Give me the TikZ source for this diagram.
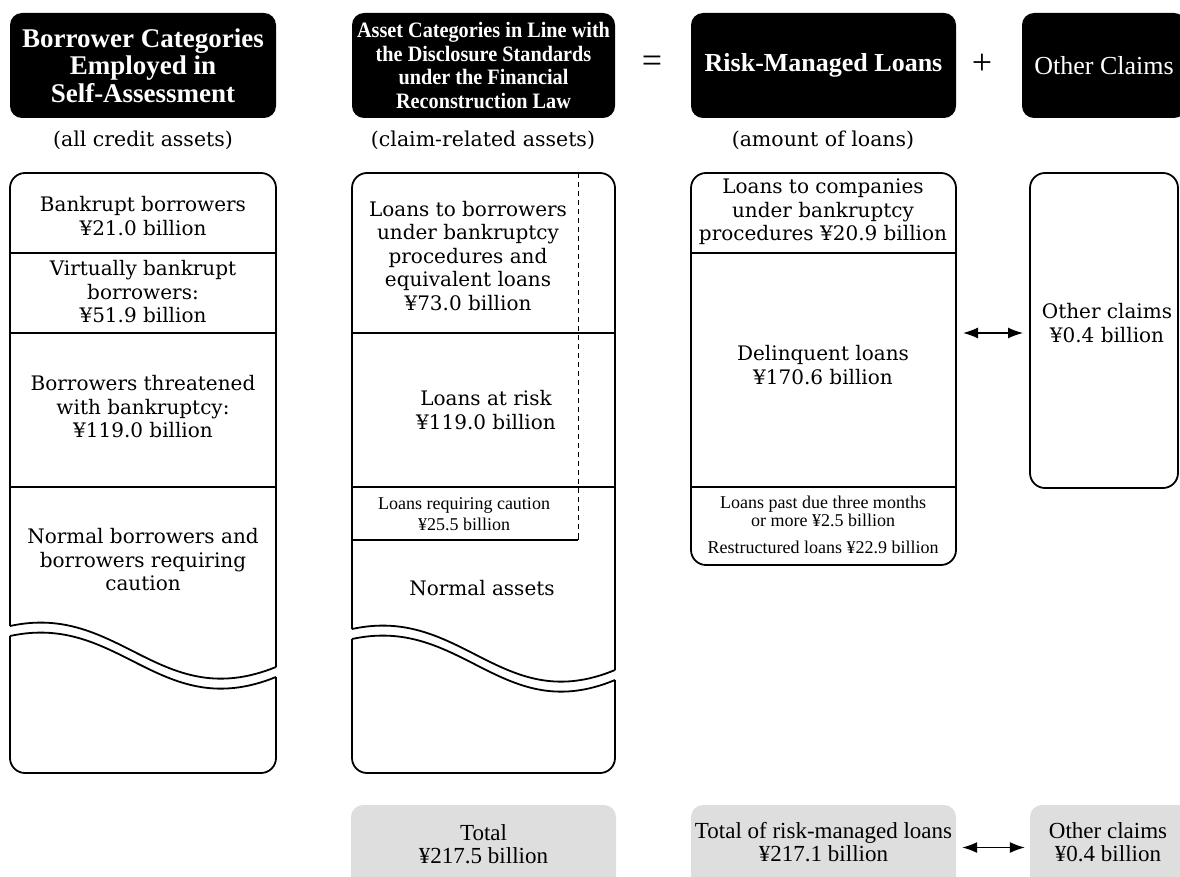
\documentclass[tikz,border=0pt]{standalone}
\usepackage{fontspec}
\setmainfont{DejaVu Serif}
\newfontfamily\tms{Liberation Serif}
\newfontfamily\tmscond[FakeStretch=0.92]{Liberation Serif}
\usetikzlibrary{arrows.meta}
\newcommand\mtxt{\fontsize{20}{23.5}\selectfont}
\newcommand\smtxt{\tms\fontsize{18}{21.5}\selectfont}
\newcommand\smtight{\tms\fontsize{18}{18}\selectfont}
\newcommand\gtxt{\tms\fontsize{23}{23}\selectfont}
\newcommand\hA{\tms\bfseries\fontsize{27}{27.5}\selectfont}
\newcommand\hB{\tmscond\bfseries\fontsize{22}{23.7}\selectfont}
\newcommand\hC{\tms\bfseries\fontsize{26}{28}\selectfont}
\newcommand\hD{\tms\fontsize{26}{28}\selectfont}
\newcommand\subt{\fontsize{20.5}{22}\selectfont}
\begin{document}
\begin{tikzpicture}[x=1pt,y=-1pt,
  hdr/.style={fill=black, rounded corners=12pt, text=white, align=center, inner sep=0pt, minimum height=105pt},
  outl/.style={line width=1.8pt, rounded corners=15pt},
  wavel/.style={line width=1.8pt},
  divl/.style={line width=1.1pt},
  txt/.style={align=center, inner sep=0pt},
  gbox/.style={fill=black!13, rounded corners=12pt, minimum height=85pt, inner sep=0pt},
  dbl/.style={{Latex[length=15pt,width=11pt]}-{Latex[length=15pt,width=11pt]}, line width=1.3pt}
]
\useasboundingbox (0,0) rectangle (1180,877);
\clip (0,0) rectangle (1180,877);

% ---------- headers ----------
\node[hdr, minimum width=266pt, font=\hA] (h1) at (143,65.5) {Borrower Categories\\Employed in\\Self-Assessment};
\node[hdr, minimum width=263pt, font=\hB] (h2) at (483.5,65.5) {Asset Categories in Line with\\the Disclosure Standards\\under the Financial\\Reconstruction Law};
\node[hdr, minimum width=265pt, font=\hC] (h3) at (823.5,65.5) {Risk-Managed Loans};
\node[hdr, minimum width=164pt, font=\hD] (h4) at (1104,65.5) {Other Claims};
\node[txt, font=\tms\fontsize{36}{36}\selectfont] (eq) at (652,64) {=};
\node[txt, font=\tms\fontsize{36}{36}\selectfont] (plus) at (982,64) {+};

\node[txt, font=\subt] (s1) at (143,140) {(all credit assets)};
\node[txt, font=\subt] (s2) at (483,140) {(claim-related assets)};
\node[txt, font=\subt] (s3) at (823,140) {(amount of loans)};

% ---------- column 1 ----------
\draw[divl] (10,253) -- (276,253);
\draw[divl] (10,333) -- (276,333);
\draw[divl] (10,487) -- (276,487);
\draw[outl] (10,626) -- (10,173) -- (276,173) -- (276,667);
\draw[wavel] (10,626) .. controls (120,602) and (160,714) .. (276,667);
\draw[outl] (10,636) -- (10,773) -- (276,773) -- (276,677);
\draw[wavel] (10,636) .. controls (120,612) and (160,724) .. (276,677);

\node[txt, font=\mtxt] (c11) at (143,216) {Bankrupt borrowers\\¥21.0 billion};
\node[txt, font=\mtxt] (c12) at (143,292) {Virtually bankrupt\\borrowers:\\¥51.9 billion};
\node[txt, font=\mtxt] (c13) at (143,407) {Borrowers threatened\\with bankruptcy:\\¥119.0 billion};
\node[txt, font=\mtxt] (c14) at (143,560) {Normal borrowers and\\borrowers requiring\\caution};

% ---------- column 2 ----------
\draw[divl] (352,333) -- (615,333);
\draw[divl] (352,487) -- (615,487);
\draw[divl] (352,540) -- (578,540);
\draw[line width=1pt, dash pattern=on 5pt off 4pt] (578,173) -- (578,537);
\draw[line width=1pt] (578,536) -- (578,540);
\draw[outl] (352,629) -- (352,173) -- (615,173) -- (615,670);
\draw[wavel] (352,629) .. controls (462,605) and (502,717) .. (615,670);
\draw[outl] (352,639) -- (352,773) -- (615,773) -- (615,680);
\draw[wavel] (352,639) .. controls (462,615) and (502,727) .. (615,680);

\node[txt, font=\mtxt] (c21) at (468,256) {Loans to borrowers\\under bankruptcy\\procedures and\\equivalent loans\\¥73.0 billion};
\node[txt, font=\mtxt] (c22) at (486,410) {Loans at risk\\¥119.0 billion};
\node[txt, font=\smtxt] (c23) at (464,514) {Loans requiring caution\\¥25.5 billion};
\node[txt, font=\mtxt] (c24) at (482,588) {Normal assets};

% ---------- column 3 ----------
\draw[divl] (691,253) -- (956,253);
\draw[divl] (691,487) -- (956,487);
\draw[outl] (691,173) rectangle (956,565);
\node[txt, font=\mtxt] (c31) at (823,212) {Loans to companies\\under bankruptcy\\procedures ¥20.9 billion};
\node[txt, font=\mtxt] (c32) at (823,365) {Delinquent loans\\¥170.6 billion};
\node[txt, font=\smtight] (c33) at (823,511) {Loans past due three months\\or more ¥2.5 billion};
\node[txt, font=\smtight] (c34) at (823,547) {Restructured loans ¥22.9 billion};

% ---------- column 4 ----------
\draw[outl] (1030,173) rectangle (1178,488);
\node[txt, font=\mtxt] (c41) at (1107,323) {Other claims\\¥0.4 billion};

\coordinate (a1) at (963,333);
\coordinate (a2) at (1023,333);
\draw[dbl] (a1) -- (a2);

% ---------- totals ----------
\node[gbox, minimum width=265pt] (g1) at (483.5,847.5) {};
\node[gbox, minimum width=265pt] (g2) at (823.5,847.5) {};
\node[gbox, minimum width=160pt] (g3) at (1110,847.5) {};
\node[txt, font=\gtxt] (t1) at (483.5,844) {Total\\¥217.5 billion};
\node[txt, font=\gtxt] (t2) at (823.5,842) {Total of risk-managed loans\\¥217.1 billion};
\node[txt, font=\gtxt] (t3) at (1108,842) {Other claims\\¥0.4 billion};
\draw[dbl] ([xshift=6pt]g2.east) -- ([xshift=-5pt]g3.west);
\end{tikzpicture}
\end{document}
